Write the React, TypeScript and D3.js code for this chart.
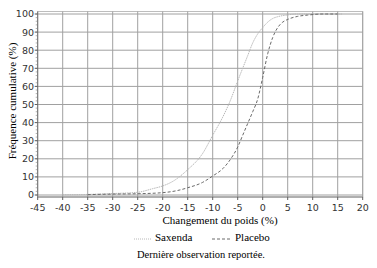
import React from "react";
import * as d3 from "d3";

const xTicks = [-45, -40, -35, -30, -25, -20, -15, -10, -5, 0, 5, 10, 15, 20];
const yTicks = [0, 10, 20, 30, 40, 50, 60, 70, 80, 90, 100];

const saxendaX = [-40, -35, -30, -25, -22, -20, -18, -15, -12, -10, -8, -6.5, -5, -3, -2, -1, 0, 1, 2, 3, 5, 7, 16];
const saxendaY = [0.1, 0.3, 0.8, 1.5, 3.5, 5, 7.5, 14, 23, 33, 43, 52, 63, 77, 84, 89, 92.5, 95.5, 97.5, 98.5, 99.5, 100, 100];

const placeboX = [-35, -30, -25, -20, -17, -15, -12, -10, -8, -6.5, -5, -4, -3, -2, -1, 0, 1, 2, 3, 4, 5, 7, 9, 12, 15];
const placeboY = [0.2, 0.5, 0.7, 1.3, 2.5, 4, 7, 10.5, 14.5, 19.5, 26.5, 33, 39.5, 46, 53, 65, 78, 87, 92.5, 95.5, 97, 98.7, 99.4, 100, 100];

const seriesNames = ["Saxenda", "Placebo"];
const xTitle = "Changement du poids (%)";
const yTitle = "Fréquence cumulative (%)";
const footnote = "Dernière observation reportée.";

export default function App() {
  const W = 377, H = 268;
  const x = d3.scaleLinear().domain([-45, 20]).range([37.7, 362.7]);
  const y = d3.scaleLinear().domain([0, 100]).range([195, 14]);
  const line = d3.line<[number, number]>().x(d => x(d[0])).y(d => y(d[1])).curve(d3.curveMonotoneX);
  const sax = saxendaX.map((v, i) => [v, saxendaY[i]] as [number, number]);
  const pla = placeboX.map((v, i) => [v, placeboY[i]] as [number, number]);
  const minor = d3.range(0, 101, 2);
  const sansFont = "'DejaVu Sans', sans-serif";
  const serifFont = "'Liberation Serif', 'DejaVu Serif', Times, serif";
  return (
    <svg width={W} height={H} style={{ position: "absolute", left: 0, top: 0, background: "#fff" }}>
      <rect x={0} y={0} width={W} height={H} fill="#fff" />
      <rect x={37.7} y={11.5} width={325} height={185.5} fill="none" stroke="#bdbdbd" strokeWidth={1} />
      {xTicks.slice(1).map(t => (
        <line key={"gx" + t} x1={x(t)} x2={x(t)} y1={11.5} y2={197} stroke="#a0a0a0" strokeWidth={1} />
      ))}
      {yTicks.map(t => (
        <line key={"gy" + t} x1={37.7} x2={362.7} y1={y(t)} y2={y(t)} stroke="#a0a0a0" strokeWidth={1} />
      ))}
      <line x1={37.7} x2={37.7} y1={11.5} y2={197} stroke="#707070" strokeWidth={1} />
      <line x1={37.7} x2={362.7} y1={197} y2={197} stroke="#808080" strokeWidth={1} />
      {minor.map(t => (
        <line key={"mn" + t} x1={35.7} x2={37.7} y1={y(t)} y2={y(t)} stroke="#808080" strokeWidth={0.6} />
      ))}
      {yTicks.map(t => (
        <line key={"ty" + t} x1={34.7} x2={37.7} y1={y(t)} y2={y(t)} stroke="#606060" strokeWidth={1} />
      ))}
      {xTicks.map(t => (
        <line key={"tx" + t} x1={x(t)} x2={x(t)} y1={197} y2={200} stroke="#606060" strokeWidth={1} />
      ))}
      {yTicks.map(t => (
        <text key={"ly" + t} x={34} y={y(t) + 3.4} textAnchor="end" fontFamily={sansFont} fontSize={9.5} fill="#333">{t}</text>
      ))}
      {xTicks.map(t => (
        <text key={"lx" + t} x={x(t)} y={211} textAnchor="middle" fontFamily={sansFont} fontSize={9.5} fill="#333">{t}</text>
      ))}
      <path d={line(sax) || ""} fill="none" stroke="#b8b8b8" strokeWidth={1} strokeDasharray="1.5 0.8" />
      <path d={line(pla) || ""} fill="none" stroke="#6a6a6a" strokeWidth={1} strokeDasharray="3 2" />
      <text x={220} y={223.5} textAnchor="middle" style={{ fontFamily: serifFont }} fontSize={11} fill="#000">{xTitle}</text>
      <text transform="translate(16,101) rotate(-90)" textAnchor="middle" style={{ fontFamily: serifFont }} fontSize={11} fill="#000">{yTitle}</text>
      <line x1={134} x2={151} y1={239} y2={239} stroke="#b8b8b8" strokeWidth={1} strokeDasharray="1 1" />
      <text x={155} y={240.5} style={{ fontFamily: serifFont }} fontSize={11} fill="#000">{seriesNames[0]}</text>
      <line x1={212} x2={230} y1={239} y2={239} stroke="#6a6a6a" strokeWidth={1} strokeDasharray="3 2" />
      <text x={235} y={240.5} style={{ fontFamily: serifFont }} fontSize={11} fill="#000">{seriesNames[1]}</text>
      <text x={201} y={257.5} textAnchor="middle" style={{ fontFamily: serifFont }} fontSize={10.5} fill="#000">{footnote}</text>
    </svg>
  );
}
